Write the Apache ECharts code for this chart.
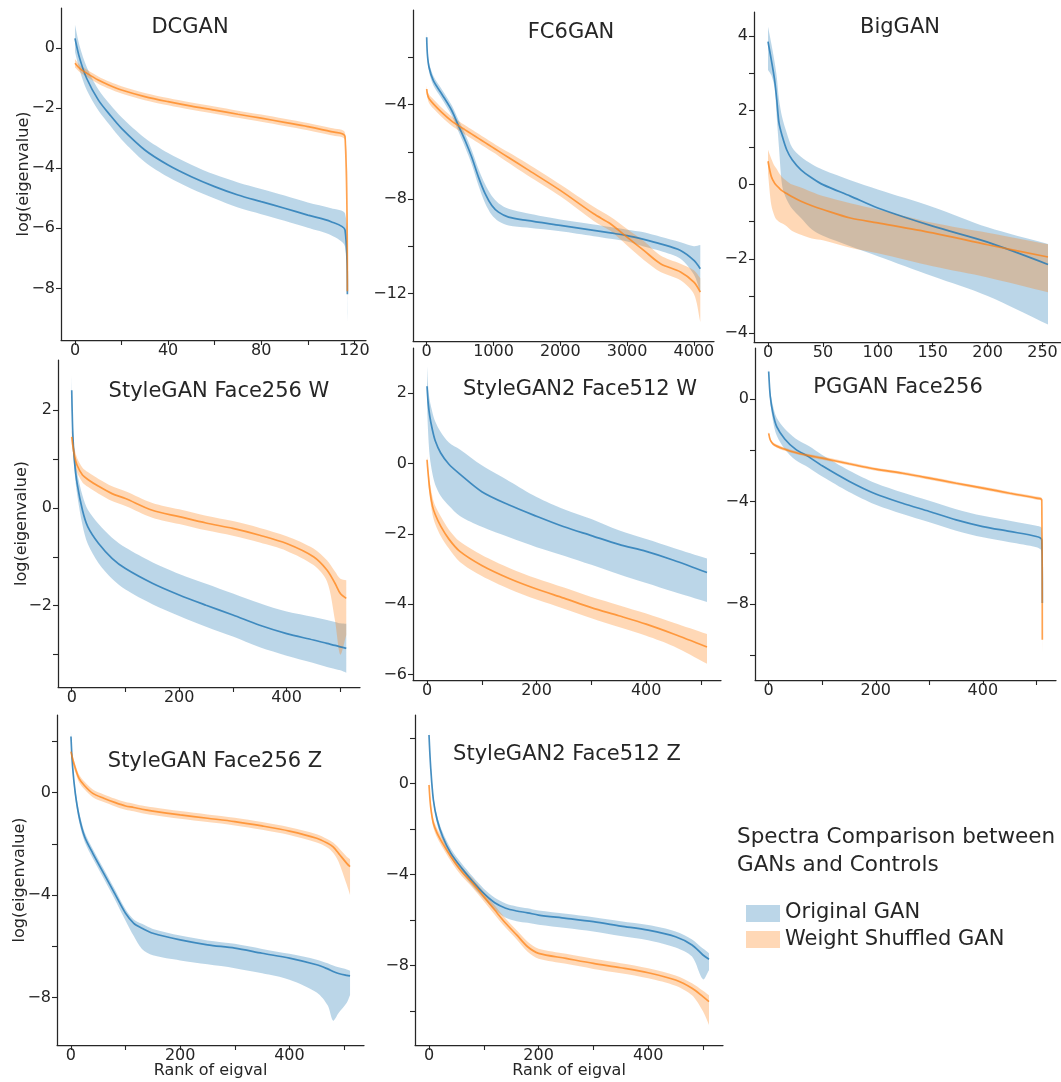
<!DOCTYPE html>
<html><head><meta charset="utf-8">
<script src="https://cdn.jsdelivr.net/npm/echarts@6/dist/echarts.min.js"></script>
<style>html,body{margin:0;padding:0;background:#fff}#c{width:1061px;height:1082px}</style>
</head><body><div id="c"></div>
<script>
// ---------------- DATA ----------------
const panelTitles = ['DCGAN','FC6GAN','BigGAN','StyleGAN Face256 W','StyleGAN2 Face512 W','PGGAN Face256','StyleGAN Face256 Z','StyleGAN2 Face512 Z'];
const seriesNames = ['Original GAN','Weight Shuffled GAN'];
const legendTitle = ['Spectra Comparison between','GANs and Controls'];
const yAxisTitle = 'log(eigenvalue)';
const xAxisTitle = 'Rank of eigval';

// DCGAN
const dcganRank = [0,2,5,10,15,20,30,40,50,60,70,80,90,100,110,116,117];
const dcganOrigMean = [0.33,-0.33,-1.0,-1.72,-2.22,-2.67,-3.39,-3.89,-4.28,-4.61,-4.89,-5.11,-5.33,-5.56,-5.78,-6.06,-8.2];
const dcganOrigHi = [0.78,0.07,-0.62,-1.37,-1.87,-2.30,-2.99,-3.49,-3.88,-4.21,-4.47,-4.69,-4.91,-5.14,-5.33,-5.51,-7.3];
const dcganOrigLo = [-0.12,-0.73,-1.38,-2.07,-2.57,-3.04,-3.79,-4.29,-4.68,-5.01,-5.31,-5.53,-5.75,-5.98,-6.23,-6.61,-9.1];
const dcganShufMean = [-0.5,-0.67,-0.83,-1.06,-1.24,-1.39,-1.61,-1.78,-1.93,-2.06,-2.2,-2.33,-2.47,-2.61,-2.78,-2.94,-8.1];
const dcganShufHi = [-0.36,-0.55,-0.71,-0.94,-1.12,-1.27,-1.49,-1.66,-1.81,-1.94,-2.08,-2.21,-2.35,-2.49,-2.66,-2.82,-7.9];
const dcganShufLo = [-0.64,-0.79,-0.95,-1.18,-1.36,-1.51,-1.73,-1.90,-2.05,-2.18,-2.32,-2.45,-2.59,-2.73,-2.90,-3.06,-8.4];
const dcganXTicks = [0,20,40,60,80,100,120], dcganXLabels = [0,40,80,120];
const dcganYTicks = [0,-2,-4,-6,-8], dcganYLabels = [0,-2,-4,-6,-8];

// FC6GAN
const fc6Rank = [0,10,35,100,225,375,475,575,675,775,875,975,1075,1225,1500,2000,2500,2750,3000,3250,3500,3800,4000,4096];
const fc6OrigMean = [-1.15,-1.86,-2.42,-2.99,-3.55,-4.25,-4.89,-5.52,-6.23,-7.07,-7.77,-8.27,-8.55,-8.76,-8.90,-9.11,-9.32,-9.43,-9.54,-9.70,-9.89,-10.17,-10.59,-10.94];
const fc6OrigHi = [-0.9,-1.66,-2.22,-2.79,-3.35,-4.03,-4.64,-5.24,-5.93,-6.72,-7.37,-7.87,-8.17,-8.41,-8.60,-8.86,-9.07,-9.18,-9.29,-9.40,-9.59,-9.82,-9.99,-9.94];
const fc6OrigLo = [-1.4,-2.06,-2.62,-3.19,-3.75,-4.47,-5.14,-5.80,-6.53,-7.42,-8.17,-8.67,-8.93,-9.11,-9.20,-9.36,-9.57,-9.68,-9.79,-10.0,-10.19,-10.52,-11.19,-11.94];
const fc6ShufMean = [-3.34,-3.55,-3.75,-3.97,-4.33,-4.7,-4.89,-5.07,-5.25,-5.43,-5.61,-5.79,-5.97,-6.24,-6.73,-7.63,-8.62,-9.04,-9.61,-10.17,-10.73,-11.08,-11.51,-11.93];
const fc6ShufHi = [-3.19,-3.40,-3.57,-3.77,-4.13,-4.50,-4.69,-4.87,-5.05,-5.23,-5.41,-5.59,-5.77,-6.02,-6.48,-7.38,-8.32,-8.74,-9.26,-9.77,-10.38,-10.73,-11.01,-11.35];
const fc6ShufLo = [-3.49,-3.70,-3.93,-4.17,-4.53,-4.90,-5.09,-5.27,-5.45,-5.63,-5.81,-5.99,-6.17,-6.46,-6.98,-7.88,-8.92,-9.34,-9.96,-10.57,-11.08,-11.43,-12.01,-13.2];
const fc6XTicks = [0,1000,2000,3000,4000], fc6XLabels = [0,1000,2000,3000,4000];
const fc6YTicks = [-2,-4,-6,-8,-10,-12], fc6YLabels = [-4,-8,-12];

// BigGAN
const bigRank = [0,3,6,8,10,13,17,22,30,40,50,75,100,150,200,255];
const bigOrigMean = [3.85,3.36,2.82,2.28,1.66,1.30,0.94,0.67,0.40,0.18,0.0,-0.31,-0.63,-1.12,-1.55,-2.15];
const bigOrigHi = [4.25,3.8,3.3,2.9,2.3,1.8,1.4,1.0,0.75,0.55,0.40,0.12,-0.13,-0.6,-1.15,-1.6];
const bigOrigLo = [3.09,2.95,2.6,1.8,1.0,-0.05,-0.4,-0.65,-0.9,-1.21,-1.38,-1.66,-1.93,-2.47,-3.0,-3.77];
const bigShufMean = [0.63,0.22,0.04,-0.03,-0.09,-0.17,-0.24,-0.33,-0.45,-0.57,-0.67,-0.90,-1.03,-1.30,-1.62,-1.95];
const bigShufHi = [0.94,0.7,0.5,0.42,0.31,0.2,0.1,0.0,-0.08,-0.2,-0.31,-0.5,-0.67,-1.03,-1.30,-1.61];
const bigShufLo = [0.3,-0.55,-0.85,-0.95,-1.0,-1.05,-1.12,-1.25,-1.35,-1.45,-1.5,-1.7,-1.85,-2.2,-2.5,-2.9];
const bigXTicks = [0,50,100,150,200,250], bigXLabels = [0,50,100,150,200,250];
const bigYTicks = [-4,-3,-2,-1,0,1,2,3,4], bigYLabels = [-4,-2,0,2,4];

// StyleGAN Face256 W
const sgWRank = [0,2,5,10,20,30,50,75,100,150,200,250,300,350,400,450,475,490,500,511];
const sgWOrigMean = [2.40,1.52,0.97,0.50,-0.05,-0.39,-0.73,-1.03,-1.24,-1.54,-1.78,-1.99,-2.19,-2.40,-2.57,-2.70,-2.77,-2.81,-2.84,-2.87];
const sgWOrigHi = [2.70,1.72,1.17,0.72,0.25,-0.04,-0.33,-0.61,-0.81,-1.11,-1.35,-1.55,-1.75,-1.95,-2.12,-2.23,-2.29,-2.33,-2.36,-2.37];
const sgWOrigLo = [2.10,1.32,0.77,0.28,-0.35,-0.74,-1.13,-1.45,-1.67,-1.97,-2.21,-2.43,-2.63,-2.85,-3.02,-3.17,-3.25,-3.29,-3.32,-3.37];
const sgWShufMean = [1.45,1.28,1.07,0.87,0.67,0.58,0.44,0.29,0.19,-0.05,-0.18,-0.31,-0.42,-0.56,-0.73,-1.0,-1.27,-1.54,-1.75,-1.85];
const sgWShufHi = [1.6,1.43,1.22,1.02,0.82,0.73,0.59,0.44,0.34,0.10,-0.03,-0.16,-0.27,-0.41,-0.58,-0.83,-1.07,-1.3,-1.45,-1.48];
const sgWShufLo = [1.3,1.13,0.92,0.72,0.52,0.43,0.29,0.14,0.04,-0.20,-0.33,-0.46,-0.57,-0.71,-0.88,-1.17,-1.5,-2.3,-3.0,-2.6];
const sgWYTicks = [-3,-2,-1,0,1,2], sgWYLabels = [-2,0,2];

// StyleGAN2 Face512 W
const sg2WRank = [0,2,5,10,15,25,40,60,100,150,200,250,300,350,400,450,511];
const sg2WOrigMean = [2.20,1.75,1.35,0.95,0.65,0.3,-0.02,-0.3,-0.8,-1.18,-1.5,-1.8,-2.05,-2.3,-2.5,-2.75,-3.1];
const sg2WOrigHi = [2.77,2.2,1.8,1.45,1.2,0.9,0.6,0.40,-0.05,-0.5,-0.95,-1.3,-1.58,-1.9,-2.15,-2.4,-2.7];
const sg2WOrigLo = [1.7,0.9,0.2,-0.3,-0.6,-0.92,-1.2,-1.49,-1.8,-2.1,-2.38,-2.62,-2.88,-3.15,-3.4,-3.65,-3.94];
const sg2WShufMean = [0.11,-0.26,-0.74,-1.21,-1.45,-1.78,-2.15,-2.5,-2.9,-3.27,-3.57,-3.83,-4.1,-4.33,-4.57,-4.85,-5.22];
const sg2WShufHi = [0.2,-0.1,-0.5,-0.95,-1.2,-1.5,-1.88,-2.22,-2.6,-2.97,-3.27,-3.53,-3.8,-4.03,-4.27,-4.53,-4.85];
const sg2WShufLo = [0.0,-0.45,-0.95,-1.45,-1.72,-2.06,-2.42,-2.8,-3.2,-3.57,-3.87,-4.13,-4.4,-4.65,-4.9,-5.2,-5.7];
const sg2WYTicks = [-6,-4,-2,0,2], sg2WYLabels = [-6,-4,-2,0,2];

// PGGAN Face256
const pgRank = [0,3,8,15,30,50,75,100,150,200,250,300,350,400,450,500,510,511];
const pgOrigMean = [1.08,0.10,-0.55,-1.07,-1.55,-1.95,-2.25,-2.6,-3.2,-3.7,-4.06,-4.38,-4.71,-4.97,-5.16,-5.36,-5.49,-7.95];
const pgOrigHi = [1.18,0.30,-0.25,-0.72,-1.15,-1.53,-1.83,-2.18,-2.78,-3.28,-3.64,-3.96,-4.29,-4.55,-4.74,-4.94,-5.04,-7.45];
const pgOrigLo = [0.98,-0.10,-0.85,-1.42,-1.95,-2.37,-2.67,-3.02,-3.62,-4.12,-4.48,-4.80,-5.13,-5.39,-5.58,-5.78,-5.94,-8.45];
const pgShufMean = [-1.33,-1.59,-1.74,-1.83,-1.95,-2.08,-2.2,-2.30,-2.52,-2.73,-2.89,-3.08,-3.28,-3.47,-3.67,-3.86,-3.93,-9.39];
const pgShufHi = [-1.27,-1.53,-1.68,-1.77,-1.89,-2.02,-2.14,-2.24,-2.46,-2.67,-2.83,-3.02,-3.22,-3.41,-3.61,-3.80,-3.87,-9.0];
const pgShufLo = [-1.39,-1.65,-1.80,-1.89,-2.01,-2.14,-2.26,-2.36,-2.58,-2.79,-2.95,-3.14,-3.34,-3.53,-3.73,-3.92,-3.99,-9.9];
const pgYTicks = [-10,-8,-6,-4,-2,0], pgYLabels = [-8,-4,0];

// StyleGAN Face256 Z
const sgZRank = [0,3,8,15,25,40,60,80,100,115,130,150,200,250,300,350,400,450,470,480,490,505,511];
const sgZOrigMean = [2.19,1.01,-0.03,-0.94,-1.72,-2.37,-3.15,-3.93,-4.71,-5.10,-5.29,-5.49,-5.75,-5.94,-6.07,-6.27,-6.46,-6.72,-6.88,-6.98,-7.06,-7.13,-7.15];
const sgZOrigHi = [2.4,1.2,0.15,-0.75,-1.55,-2.2,-2.98,-3.76,-4.55,-4.95,-5.12,-5.32,-5.58,-5.77,-5.9,-6.1,-6.29,-6.52,-6.66,-6.75,-6.82,-6.9,-6.95];
const sgZOrigLo = [2.0,0.8,-0.25,-1.15,-1.92,-2.57,-3.35,-4.15,-5.0,-5.6,-6.1,-6.35,-6.55,-6.7,-6.85,-7.05,-7.3,-7.8,-8.3,-8.9,-8.6,-8.2,-7.9];
const sgZShufMean = [1.60,1.32,0.95,0.55,0.27,-0.03,-0.22,-0.38,-0.52,-0.58,-0.65,-0.72,-0.87,-1.0,-1.13,-1.30,-1.50,-1.78,-1.98,-2.12,-2.37,-2.76,-2.89];
const sgZShufHi = [1.75,1.47,1.1,0.7,0.42,0.12,-0.07,-0.23,-0.37,-0.43,-0.50,-0.57,-0.72,-0.85,-0.98,-1.15,-1.35,-1.62,-1.82,-1.95,-2.15,-2.5,-2.6];
const sgZShufLo = [1.45,1.17,0.8,0.4,0.12,-0.18,-0.37,-0.53,-0.67,-0.73,-0.80,-0.87,-1.02,-1.15,-1.28,-1.45,-1.65,-1.95,-2.15,-2.35,-2.7,-3.6,-4.0];
const sgZYTicks = [-8,-6,-4,-2,0,2], sgZYLabels = [-8,-4,0];

// StyleGAN2 Face512 Z
const sg2ZRank = [0,3,8,15,25,40,60,80,100,120,140,160,180,200,250,300,350,400,450,480,500,511];
const sg2ZOrigMean = [2.12,0.73,-0.73,-1.61,-2.34,-3.07,-3.73,-4.31,-4.83,-5.24,-5.48,-5.6,-5.68,-5.78,-5.92,-6.07,-6.26,-6.44,-6.73,-7.09,-7.53,-7.72];
const sg2ZOrigHi = [2.3,0.9,-0.55,-1.43,-2.15,-2.87,-3.53,-4.1,-4.62,-5.02,-5.27,-5.4,-5.48,-5.58,-5.72,-5.87,-6.05,-6.22,-6.5,-6.85,-7.25,-7.45];
const sg2ZOrigLo = [1.95,0.55,-0.9,-1.8,-2.52,-3.27,-3.93,-4.52,-5.05,-5.55,-5.9,-6.05,-6.12,-6.2,-6.35,-6.5,-6.7,-6.88,-7.2,-7.6,-8.6,-8.2];
const sg2ZShufMean = [-0.07,-1.02,-1.75,-2.19,-2.63,-3.22,-3.88,-4.39,-4.97,-5.56,-6.14,-6.65,-7.17,-7.46,-7.68,-7.90,-8.09,-8.31,-8.63,-8.99,-9.36,-9.58];
const sg2ZShufHi = [0.1,-0.82,-1.55,-1.99,-2.43,-3.02,-3.68,-4.19,-4.77,-5.36,-5.94,-6.45,-6.95,-7.26,-7.48,-7.7,-7.89,-8.11,-8.43,-8.77,-9.1,-9.3];
const sg2ZShufLo = [-0.2,-1.22,-1.95,-2.39,-2.83,-3.42,-4.08,-4.59,-5.17,-5.76,-6.34,-6.85,-7.39,-7.7,-7.92,-8.14,-8.33,-8.55,-8.88,-9.3,-10.0,-10.6];
const sg2ZYTicks = [-10,-8,-6,-4,-2,0,2], sg2ZYLabels = [-8,-4,0];

const rank512XTicks = [0,100,200,300,400,500], rank512XLabels = [0,200,400];

// ---------------- LAYOUT / STYLE ----------------
const FONT = 'DejaVu Sans';
const TEXT = '#262626';
const BLUE_LINE = 'rgba(31,119,180,0.8)', ORANGE_LINE = 'rgba(255,127,14,0.72)';
const BLUE_BAND = 'rgba(31,119,180,0.3)', ORANGE_BAND = 'rgba(255,127,14,0.3)';

const layout = [
  {left:61, top:8, width:305, height:332, xMin:-6, xMax:125, yMin:-9.72, yMax:1.34, tx:190, ty:28, yName:29},
  {left:413, top:10, width:301, height:331, xMin:-205, xMax:4301, yMin:-14, yMax:0, tx:571, ty:33},
  {left:754, top:12, width:308, height:330, xMin:-12.75, xMax:267.75, yMin:-4.24, yMax:4.65, tx:900, ty:28},
  {left:58, top:360, width:302, height:327, xMin:-25.55, xMax:536.55, yMin:-3.66, yMax:3.02, tx:219, ty:392, yName:28},
  {left:413, top:348, width:308, height:332, xMin:-25.55, xMax:536.55, yMin:-6.16, yMax:3.29, tx:580, ty:390},
  {left:755, top:348, width:301, height:332, xMin:-25.55, xMax:536.55, yMin:-10.96, yMax:2.0, tx:898, ty:388},
  {left:57, top:715, width:307, height:330, xMin:-25.55, xMax:536.55, yMin:-9.85, yMax:3.03, tx:215, ty:762, yName:29, xName:true},
  {left:415, top:715, width:308, height:330, xMin:-25.55, xMax:536.55, yMin:-11.48, yMax:3.0, tx:567, ty:755, xName:true}
];

const panels = [
  {rank:dcganRank, om:dcganOrigMean, oh:dcganOrigHi, ol:dcganOrigLo, sm:dcganShufMean, sh:dcganShufHi, sl:dcganShufLo, xt:dcganXTicks, xl:dcganXLabels, yt:dcganYTicks, yl:dcganYLabels},
  {rank:fc6Rank, om:fc6OrigMean, oh:fc6OrigHi, ol:fc6OrigLo, sm:fc6ShufMean, sh:fc6ShufHi, sl:fc6ShufLo, xt:fc6XTicks, xl:fc6XLabels, yt:fc6YTicks, yl:fc6YLabels},
  {rank:bigRank, om:bigOrigMean, oh:bigOrigHi, ol:bigOrigLo, sm:bigShufMean, sh:bigShufHi, sl:bigShufLo, xt:bigXTicks, xl:bigXLabels, yt:bigYTicks, yl:bigYLabels},
  {rank:sgWRank, om:sgWOrigMean, oh:sgWOrigHi, ol:sgWOrigLo, sm:sgWShufMean, sh:sgWShufHi, sl:sgWShufLo, xt:rank512XTicks, xl:rank512XLabels, yt:sgWYTicks, yl:sgWYLabels},
  {rank:sg2WRank, om:sg2WOrigMean, oh:sg2WOrigHi, ol:sg2WOrigLo, sm:sg2WShufMean, sh:sg2WShufHi, sl:sg2WShufLo, xt:rank512XTicks, xl:rank512XLabels, yt:sg2WYTicks, yl:sg2WYLabels},
  {rank:pgRank, om:pgOrigMean, oh:pgOrigHi, ol:pgOrigLo, sm:pgShufMean, sh:pgShufHi, sl:pgShufLo, xt:rank512XTicks, xl:rank512XLabels, yt:pgYTicks, yl:pgYLabels},
  {rank:sgZRank, om:sgZOrigMean, oh:sgZOrigHi, ol:sgZOrigLo, sm:sgZShufMean, sh:sgZShufHi, sl:sgZShufLo, xt:rank512XTicks, xl:rank512XLabels, yt:sgZYTicks, yl:sgZYLabels},
  {rank:sg2ZRank, om:sg2ZOrigMean, oh:sg2ZOrigHi, ol:sg2ZOrigLo, sm:sg2ZShufMean, sh:sg2ZShufHi, sl:sg2ZShufLo, xt:rank512XTicks, xl:rank512XLabels, yt:sg2ZYTicks, yl:sg2ZYLabels}
];

function fmt(v){ return v < 0 ? '\u2212' + Math.abs(v) : String(v); }

// band polygon: upper edge forward, lower edge backward; end points doubled so the
// smoothed outline keeps straight, square ends instead of bulging past the data.
function bandRenderer(color){
  return function(params, api){
    if (params.dataIndexInside !== 0) return null;
    const n = params.dataInsideLength;
    const top = [], bot = [];
    for (let i = 0; i < n; i++) {
      const x = api.value(0, i);
      top.push(api.coord([x, api.value(2, i)]));
      bot.push(api.coord([x, api.value(1, i)]));
    }
    bot.reverse();
    const pts = [top[0]].concat(top, [top[n-1]], [bot[0]], bot, [bot[n-1]]);
    return {type:'polygon', shape:{points: pts, smooth:0.3}, style:{fill: color}, silent:true};
  };
}

const grids = [], xAxes = [], yAxes = [], series = [], graphics = [];
panels.forEach((p, i) => {
  const L = layout[i];
  grids.push({left:L.left, top:L.top, width:L.width, height:L.height, containLabel:false, outerBoundsMode:'none', show:false});
  const axisLine = {show:true, onZero:false, lineStyle:{color:TEXT, width:1.25}};
  xAxes.push({
    type:'value', gridIndex:i, min:L.xMin, max:L.xMax,
    axisLine: axisLine,
    axisTick:{show:true, length:5, customValues:p.xt, lineStyle:{color:TEXT, width:1.1}},
    axisLabel:{show:true, customValues:p.xl, formatter:fmt, margin:3, fontSize:16, fontFamily:FONT, color:TEXT},
    splitLine:{show:false},
    name: L.xName ? xAxisTitle : '', nameLocation:'middle', nameGap:18, nameMoveOverlap:false,
    nameTextStyle:{fontSize:16, fontFamily:FONT, color:TEXT}
  });
  yAxes.push({
    type:'value', gridIndex:i, min:L.yMin, max:L.yMax,
    axisLine: axisLine,
    axisTick:{show:true, length:5, customValues:p.yt, lineStyle:{color:TEXT, width:1.1}},
    axisLabel:{show:true, customValues:p.yl, formatter:fmt, margin:6, fontSize:16, fontFamily:FONT, color:TEXT},
    splitLine:{show:false},
    name: L.yName ? yAxisTitle : '', nameLocation:'middle', nameGap: L.yName || 30, nameMoveOverlap:false,
    nameTextStyle:{fontSize:16, fontFamily:FONT, color:TEXT}
  });
  const bands = [[p.ol, p.oh, BLUE_BAND, seriesNames[0]], [p.sl, p.sh, ORANGE_BAND, seriesNames[1]]];
  bands.forEach(b => {
    series.push({
      type:'custom', name:b[3], coordinateSystem:'cartesian2d', xAxisIndex:i, yAxisIndex:i,
      data: p.rank.map((r, k) => [r, b[0][k], b[1][k]]),
      encode:{x:0, y:[1,2]}, renderItem: bandRenderer(b[2]), clip:true, silent:true, z:1
    });
  });
  const lines = [[p.om, BLUE_LINE, seriesNames[0]], [p.sm, ORANGE_LINE, seriesNames[1]]];
  lines.forEach(l => {
    series.push({
      type:'line', name:l[2], xAxisIndex:i, yAxisIndex:i,
      data: p.rank.map((r, k) => [r, l[0][k]]),
      symbol:'none', showSymbol:false, smooth:0.3, silent:true, z:3,
      lineStyle:{color:l[1], width:1.7}
    });
  });
  graphics.push({type:'text', x:L.tx, y:L.ty, silent:true,
    style:{text:panelTitles[i], fill:TEXT, fontSize:21, fontFamily:FONT, align:'center', verticalAlign:'middle'}});
});

// legend block
graphics.push({type:'text', x:737, y:837, style:{text:legendTitle[0], fill:TEXT, fontSize:21.5, fontFamily:FONT, align:'left', verticalAlign:'middle'}});
graphics.push({type:'text', x:737, y:865, style:{text:legendTitle[1], fill:TEXT, fontSize:21.5, fontFamily:FONT, align:'left', verticalAlign:'middle'}});
graphics.push({type:'rect', shape:{x:746, y:905, width:34, height:17}, style:{fill:BLUE_BAND}});
graphics.push({type:'rect', shape:{x:746, y:931, width:34, height:17}, style:{fill:ORANGE_BAND}});
graphics.push({type:'text', x:785, y:913, style:{text:seriesNames[0], fill:TEXT, fontSize:21, fontFamily:FONT, align:'left', verticalAlign:'middle'}});
graphics.push({type:'text', x:785, y:940, style:{text:seriesNames[1], fill:TEXT, fontSize:21, fontFamily:FONT, align:'left', verticalAlign:'middle'}});

const chart = echarts.init(document.getElementById('c'), null, {renderer:'canvas'});
chart.setOption({
  backgroundColor:'#ffffff',
  animation:false,
  textStyle:{fontFamily:FONT, color:TEXT},
  grid:grids, xAxis:xAxes, yAxis:yAxes, series:series,
  graphic:{elements:graphics},
  tooltip:{show:false}
});
</script>
</body></html>
